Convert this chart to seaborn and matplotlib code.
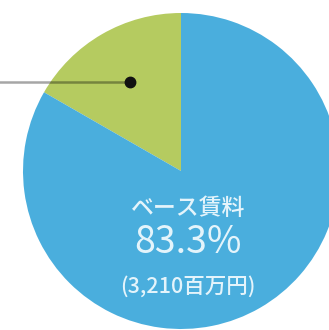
import matplotlib
matplotlib.use("Agg")
import matplotlib.pyplot as plt
import seaborn as sns
import numpy as np

# rent breakdown
labels = ["その他", "ベース賃料"]
shares = [16.7, 83.3]
base_amount = 3210  # 百万円
colors = ["#B5CB60", "#4AAEDD"]

sns.set_theme(style="white")
plt.rcParams["font.family"] = ["Noto Sans CJK JP", "DejaVu Sans"]

fig = plt.figure(figsize=(3.29, 3.30), dpi=100)
ax = fig.add_axes([0, 0, 1, 1])

wedges, _ = ax.pie(shares, colors=colors, startangle=90, counterclock=True,
                   radius=1.0, wedgeprops=dict(linewidth=0))

# leader from the small slice out to the left edge
w = wedges[0]
mid = np.deg2rad((w.theta1 + w.theta2) / 2)
dx, dy = 0.65 * np.cos(mid), 0.65 * np.sin(mid)
ax.plot([-2, dx], [dy, dy], color="black", alpha=0.35, lw=1.8, solid_capstyle="butt", zorder=3)
ax.plot(dx, dy, "o", color="#111111", ms=7.5, zorder=4)

txt = "#E4F4FB"
ax.text(0.045, -0.234, labels[1], ha="center", va="center", color=txt, fontsize=16.5, fontweight="medium")
ax.text(0.045, -0.45, f"{shares[1]}%", ha="center", va="center", color=txt, fontsize=27)
ax.text(0.045, -0.735, f"({base_amount:,}百万円)", ha="center", va="center", color=txt, fontsize=15.5, fontweight="medium")

r = 158.0
cx, cy = 181.0, 171.0
ax.set_aspect("auto")
ax.set_xlim(-cx / r, (329 - cx) / r)
ax.set_ylim(-(330 - cy) / r, cy / r)
ax.axis("off")

fig.savefig("out.png", dpi=100)
